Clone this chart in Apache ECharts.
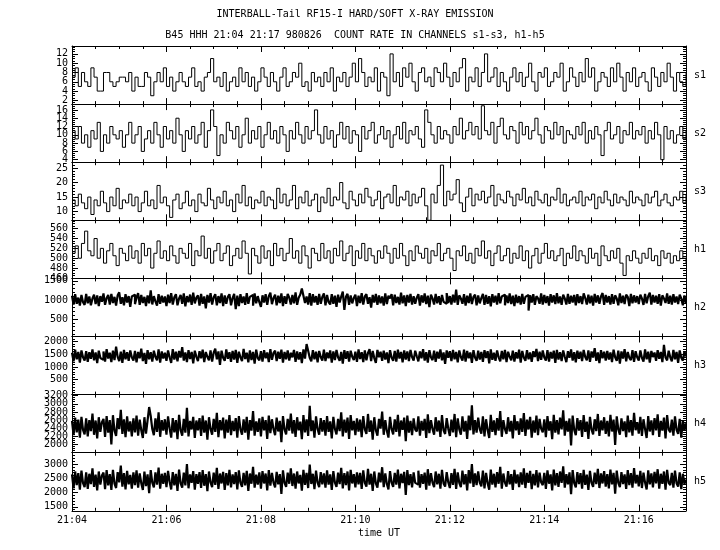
<!DOCTYPE html>
<html><head><meta charset="utf-8">
<script src="https://cdn.jsdelivr.net/npm/echarts@6/dist/echarts.min.js"></script>
<style>html,body{margin:0;padding:0;background:#fff}#c{width:720px;height:550px}</style>
</head><body><div id="c"></div>
<script>
// ---- DATA ----
const titleLine1 = 'INTERBALL-Tail RF15-I HARD/SOFT X-RAY EMISSION';
const titleLine2 = 'B45 HHH 21:04 21:17 980826  COUNT RATE IN CHANNELS s1-s3, h1-h5';
const xTickLabels = ['21:04','21:06','21:08','21:10','21:12','21:14','21:16'];
const channelNames = ['s1','s2','s3','h1','h2','h3','h4','h5'];
const sparseStep = 4; // seconds between samples, s1..h1
const denseStep = 2;  // seconds between samples, h2..h5

const s1Ticks = [2,4,6,8,10,12];
const s2Ticks = [4,6,8,10,12,14,16];
const s3Ticks = [10,15,20,25];
const h1Ticks = [460,480,500,520,540,560];
const h2Ticks = [500,1000,1500];
const h3Ticks = [500,1000,1500,2000];
const h4Ticks = [2000,2200,2400,2600,2800,3000,3200];
const h5Ticks = [1500,2000,2500,3000];

const s1 = [7,9,5,8,6,5,9,7,4,4,8,8,6,5,6,7,7,6,8,4,
7,5,5,8,7,3,6,8,6,9,5,7,4,6,8,6,5,7,9,5,
6,4,7,8,11,6,7,5,8,4,6,7,5,9,6,8,5,7,4,6,
9,7,5,8,6,4,7,9,5,6,8,7,10,5,6,4,8,6,7,5,
8,6,9,4,7,6,8,5,7,10,6,11,8,5,7,6,9,4,8,7,
3,12,6,8,5,9,7,10,6,4,8,9,6,7,5,9,8,6,10,7,
5,8,6,9,11,4,7,6,9,5,8,12,6,7,9,5,8,6,4,7,
9,6,8,5,7,10,6,4,8,7,9,5,6,8,7,10,4,6,9,7,
5,8,6,11,7,9,4,6,8,7,5,9,6,10,7,4,8,6,9,5,
7,8,6,4,9,7,5,8,6,10,7,4,8,6,5,8];

const s2 = [11,9,12,8,10,7,11,9,13,6,10,8,12,10,9,11,7,10,13,8,
10,12,6,9,11,8,13,10,7,12,9,11,8,14,10,6,11,9,12,8,
10,13,7,11,16,12,5,10,8,13,11,9,12,7,10,14,8,11,9,12,
7,10,13,9,11,8,12,10,6,11,9,13,10,8,12,9,11,16,10,8,
12,9,11,7,10,13,9,12,8,11,10,6,12,9,11,13,8,10,12,9,
11,7,10,12,9,13,8,11,10,12,9,7,16,13,10,8,12,9,11,10,
8,12,10,14,9,11,13,10,12,9,17,11,10,13,8,12,14,10,9,12,
11,8,13,10,12,9,11,14,10,8,12,11,9,13,10,12,8,11,10,9,
12,10,13,8,11,9,12,10,5,11,13,9,10,12,8,11,10,13,9,11,
10,12,8,11,9,13,10,4,12,9,11,8,10,12,9,11];

const s3 = [14,12,16,13,11,15,9,14,12,17,13,10,15,12,18,11,14,13,16,12,
15,10,13,17,12,14,11,19,13,15,12,8,14,16,11,13,17,12,14,10,
16,13,12,18,14,11,15,13,17,12,14,10,16,13,19,12,15,11,14,13,
17,12,15,14,11,18,13,16,12,14,19,11,15,13,17,12,14,16,10,15,
13,18,12,15,14,20,13,11,17,14,12,16,13,18,15,12,14,17,11,15,
16,13,19,12,15,14,17,12,16,13,15,18,12,7,16,13,19,26,12,17,
14,16,21,13,10,15,18,12,16,14,17,13,15,19,12,16,14,13,17,15,
12,16,14,18,13,15,12,17,14,13,16,12,15,14,18,13,16,12,14,15,
13,17,12,15,14,16,11,15,13,17,14,12,16,13,15,14,12,17,13,15,
14,12,16,13,15,17,12,14,16,13,12,15,14,17,13,16];

const h1 = [510,525,500,530,555,515,505,540,500,520,490,515,530,505,485,520,510,495,525,500,
515,490,530,505,520,480,510,535,500,515,495,525,505,490,520,510,500,530,485,515,
505,545,500,520,490,515,530,495,510,525,485,505,520,500,535,510,468,520,505,490,
525,500,515,485,530,505,520,495,510,540,500,515,490,525,505,480,520,510,495,530,
500,515,490,520,505,535,495,510,525,485,515,500,530,495,520,505,490,515,500,525,
510,490,520,500,530,505,485,515,495,525,510,500,520,490,515,505,530,495,510,520,
500,475,515,505,525,495,510,490,520,505,535,500,515,485,510,525,495,505,520,490,
510,500,525,495,515,480,505,520,490,510,530,500,515,495,505,520,485,510,500,525,
495,515,505,490,520,500,510,485,525,505,495,515,500,520,490,465,505,495,515,500,
490,510,500,520,495,505,485,515,500,510,490,505,495,515,500,490];

const h2 = [1110,880,1150,900,1060,850,1130,940,870,1160,910,1090,860,1040,1140,890,1120,840,1100,950,
1170,870,1050,1130,880,1160,920,1080,850,1120,1200,900,1070,860,1150,930,1100,820,1090,1140,
890,1060,1180,870,1130,920,1080,840,1120,910,1250,880,1100,960,850,1150,900,1110,930,1090,
840,1140,920,1180,880,1070,1150,860,1040,1130,900,1170,830,1100,940,1140,870,1190,910,1060,
1120,850,1160,900,1090,780,1130,930,1180,880,1070,1150,860,1100,920,1170,840,1120,900,1080,
1150,860,1050,1160,760,1110,840,1150,920,1090,870,1180,900,1080,1130,850,1170,910,1100,940,
820,1120,930,1150,870,1100,1190,890,1050,1140,860,1110,920,1170,840,1100,900,1160,1060,880,
1130,910,1200,870,1060,1140,1300,1110,920,1090,880,1180,850,1150,930,1100,870,1160,900,1080,
1170,860,1130,940,880,1150,900,1110,820,1140,930,1090,1220,740,1080,1160,870,1120,910,1050,
1140,840,1110,920,1180,880,1090,1150,900,1070,800,1130,930,1160,870,1120,910,1090,850,1170,
890,1110,1040,1150,860,1140,920,1080,880,1190,910,1120,840,1130,930,1160,880,1100,900,1060,
1150,850,1120,930,1170,890,1110,810,1140,1040,880,1160,910,1100,870,1130,950,900,1180,920,
1100,880,1140,930,1270,870,1120,1040,900,1150,850,1110,920,1170,890,1080,1140,860,1120,910,
1050,1160,870,1130,900,1100,830,1150,930,1110,880,1180,910,1090,1140,860,1120,920,1170,890,
1110,840,1140,920,1100,880,1160,900,1080,1130,720,1120,930,1150,870,1100,1040,900,1170,880,
1130,920,1100,850,1150,930,1120,890,1180,910,1090,870,1140,1040,880,1160,900,1110,930,1130,
860,1150,920,1100,890,1170,1050,880,1140,910,1110,850,1160,930,1120,900,1090,1180,870,1130,
930,1100,880,1150,900,1120,1040,860,1170,920,1110,890,1140,1080,840,1160,910,1120,930,1100,
890,1140,1040,870,1160,910,1100,1190,880,1130,930,1110,900,1150,850,1120,1040,920,1170,900,
1110,880,1150,930,1090,890,1140,1040,860,1120,920];

const h3 = [1560,1220,1680,1300,1590,1170,1650,1380,1250,1620,1200,1580,1320,1690,1260,1570,1150,1640,1350,1280,
1610,1210,1700,1330,1560,1190,1640,1270,1800,1400,1230,1600,1160,1670,1300,1580,1240,1650,1380,1250,
1630,1180,1590,1340,1720,1230,1550,1120,1660,1300,1580,1210,1640,1390,1260,1690,1170,1610,1330,1560,
1240,1650,1380,1160,1700,1290,1600,1220,1630,1370,1780,1250,1570,1190,1660,1310,1590,1140,1640,1400,
1230,1620,1340,1680,1190,1590,1400,1260,1650,1210,1560,1720,1300,1610,1080,1640,1360,1240,1690,1320,
1580,1200,1630,1290,1670,1160,1600,1380,1230,1710,1310,1560,1180,1650,1270,1590,1130,1680,1350,1260,
1620,1210,1660,1340,1570,1190,1700,1280,1550,1640,1230,1600,1320,1680,1170,1590,1300,1650,1250,1560,
1380,1670,1200,1610,1290,1580,1150,1690,1330,1900,1640,1360,1220,1660,1300,1600,1180,1630,1390,1250,
1680,1230,1570,1340,1650,1170,1610,1270,1670,1380,1240,1590,1130,1660,1320,1620,1210,1640,1400,1270,
1600,1200,1690,1310,1580,1190,1650,1260,1550,1700,1230,1630,1350,1160,1670,1380,1600,1240,1640,1290,
1570,1150,1660,1370,1240,1630,1210,1680,1330,1590,1180,1650,1290,1610,1230,1670,1390,1250,1640,1420,
1220,1610,1340,1700,1250,1580,1170,1660,1380,1270,1640,1200,1600,1330,1690,1260,1570,1120,1650,1360,
1620,1230,1670,1300,1590,1180,1650,1390,1250,1680,1210,1630,1340,1570,1160,1660,1370,1240,1640,1290,
1590,1200,1660,1350,1620,1140,1690,1280,1560,1240,1650,1380,1220,1630,1300,1670,1190,1600,1400,1260,
1640,1210,1580,1330,1680,1170,1630,1370,1240,1660,1300,1570,1200,1620,1390,1710,1230,1600,1280,1650,
1370,1250,1660,1210,1590,1330,1640,1160,1670,1290,1580,1230,1650,1400,1190,1620,1360,1690,1250,1580,
1180,1640,1320,1600,1230,1670,1390,1260,1650,1200,1610,1370,1740,1240,1570,1150,1660,1340,1600,1250,
1630,1290,1570,1190,1680,1380,1240,1640,1130,1610,1330,1700,1220,1590,1360,1270,1660,1200,1620,1380,
1250,1650,1360,1210,1690,1300,1600,1170,1630,1390,1570,1240,1660,1320,1590,1190,1870,1370,1260,1640,
1380,1220,1670,1300,1590,1160,1650,1360,1250,1620,1410];

const h4 = [2580,2230,2660,2300,2610,2170,2680,2360,2250,2640,2200,2600,2330,2760,2240,2590,2150,2670,2310,2550,
2630,2190,2700,2290,2600,2000,2720,2340,2210,2650,2380,2850,2260,2620,2180,2690,2320,2570,2200,2640,
2300,2710,2220,2610,2350,2160,2670,2270,2590,2920,2700,2380,2230,2640,2310,2790,2190,2600,2340,2620,
2240,2690,2400,2170,2650,2300,2600,2130,2730,2350,2220,2630,2290,2900,2200,2580,2370,2680,2160,2590,
2350,2650,2210,2710,2290,2590,2120,2670,2380,2240,2630,2310,2780,2180,2600,2350,2660,2150,2610,2290,
2720,2230,2580,2330,2650,2170,2700,2370,2240,2620,2290,2680,2120,2600,2340,2820,2220,2570,2310,2640,
2200,2680,2350,2600,2140,2710,2280,2620,2380,2230,2660,2320,2580,2060,2700,2370,2250,2630,2340,2760,
2270,2600,2190,2670,2350,2560,2130,2720,2300,2620,2210,2950,2330,2590,2170,2690,2380,2240,2650,2320,
2600,2220,2700,2310,2570,2150,2680,2380,2250,2630,2330,2790,2200,2610,2290,2660,2140,2720,2350,2580,
2230,2640,2320,2610,2180,2700,2370,2260,2750,2310,2590,2120,2670,2350,2220,2630,2390,2810,2240,2600,
2330,2170,2680,2380,2250,2620,2310,2730,2200,2590,2360,2660,2080,2710,2290,2580,2230,2640,2370,2320,
2690,2220,2580,2340,2630,2160,2740,2280,2600,2380,2240,2670,2320,2590,2190,2720,2350,2260,2650,2390,
2210,2610,2300,2750,2180,2640,2370,2240,2690,2320,2580,2140,2710,2350,2960,2250,2600,2290,2660,2380,
2270,2690,2200,2620,2360,2160,2730,2310,2590,2230,2650,2340,2820,2190,2600,2380,2260,2670,2320,2580,
2150,2720,2350,2570,2240,2640,2310,2770,2210,2610,2370,2680,2170,2590,2290,2710,2230,2630,2390,2300,
2620,2180,2700,2340,2570,2130,2730,2290,2600,2250,2660,2370,2840,2220,2580,2320,2640,1980,2710,2360,
2230,2650,2340,2600,2190,2720,2310,2560,2140,2680,2370,2250,2620,2330,2750,2210,2590,2350,2670,2260,
2580,2200,2730,2320,2610,1990,2690,2370,2240,2640,2330,2570,2180,2710,2300,2600,2220,2780,2350,2550,
2270,2680,2210,2620,2380,2160,2700,2320,2590,2230,2650,2350,2740,2190,2580,2340,2660,2150,2720,2370,
2300,2610,2220,2690,2360,2260,2630,2170,2590,2340,2520];

const h5 = [2640,2150,2740,2260,2680,2100,2770,2330,2190,2710,2130,2660,2300,2850,2200,2630,2080,2740,2280,2600,
2700,2120,2790,2250,2650,2090,2800,2310,2160,2720,2360,2950,2210,2680,2110,2760,2290,2620,2140,2710,
2260,2780,2170,2670,2330,2090,2740,2230,2640,1980,2790,2350,2180,2710,2280,2880,2140,2660,2310,2690,
2190,2760,2380,2110,2720,2250,2660,2060,2810,2320,2170,2700,2250,3000,2150,2640,2340,2750,2100,2650,
2310,2720,2160,2790,2240,2650,2050,2740,2360,2190,2700,2270,2870,2130,2670,2320,2730,2090,2680,2250,
2800,2180,2640,2300,2720,2110,2780,2340,2200,2690,2250,2760,2060,2670,2310,2900,2170,2630,2280,2710,
2140,2750,2320,2670,2080,2790,2240,2690,2350,2180,2730,2290,2650,1950,2780,2340,2200,2700,2310,2850,
2230,2670,2140,2740,2320,2620,2070,2800,2270,2690,2160,2980,2300,2660,2120,2770,2350,2190,2720,2290,
2670,2170,2780,2280,2640,2090,2750,2350,2200,2700,2300,2870,2150,2680,2260,2740,2080,2800,2320,2650,
2180,2710,2290,2690,2130,2780,2340,2210,2830,2280,2660,2060,2740,2320,2170,2700,2360,2890,2190,2670,
2300,2110,2750,2350,2200,2690,2280,2810,2150,2660,2330,2730,1920,2790,2260,2650,2180,2710,2340,2280,
2770,2170,2650,2310,2700,2100,2820,2240,2680,2350,2190,2740,2290,2660,2140,2800,2320,2210,2720,2360,
2160,2680,2270,2830,2130,2710,2340,2190,2770,2290,2650,2080,2790,2320,3000,2200,2670,2260,2740,2350,
2220,2770,2150,2690,2330,2100,2810,2280,2660,2180,2720,2310,2900,2140,2670,2350,2210,2750,2290,2650,
2090,2800,2320,2640,2190,2710,2280,2850,2160,2690,2340,2760,2120,2660,2250,2790,2180,2700,2360,2260,
2690,2130,2780,2310,2640,2080,2810,2250,2680,2200,2740,2340,2920,2170,2650,2290,2710,1940,2790,2330,
2180,2720,2300,2680,2140,2800,2270,2630,2090,2760,2340,2200,2700,2300,2830,2160,2670,2320,2750,2210,
2650,2150,2810,2290,2690,1960,2770,2340,2190,2720,2300,2640,2130,2790,2260,2680,2170,2860,2320,2620,
2220,2760,2160,2700,2350,2110,2780,2290,2670,2180,2730,2320,2820,2140,2660,2310,2740,2100,2800,2340,
2260,2690,2170,2770,2330,2210,2710,2120,2660,2310,2450];

// ---- LAYOUT / STYLE ----
const GRID_TOP = 46, GRID_H = 58.1, LEFT = 72, RIGHT = 34;
const T_MAX = 780;
const FONT = 'DejaVu Sans Mono';
const FS = 10;
const BLACK = '#000';

const panels = [
  {data:s1, dt:sparseStep, min:1.2, max:13.7, ticks:s1Ticks, minor:0.5, lw:1},
  {data:s2, dt:sparseStep, min:3.4, max:17.4, ticks:s2Ticks, minor:0.5, lw:1},
  {data:s3, dt:sparseStep, min:7, max:27, ticks:s3Ticks, minor:1, lw:1},
  {data:h1, dt:sparseStep, min:459, max:577, ticks:h1Ticks, minor:5, lw:1},
  {data:h2, dt:denseStep, min:40, max:1565, ticks:h2Ticks, minor:100, lw:2.2},
  {data:h3, dt:denseStep, min:-90, max:2200, ticks:h3Ticks, minor:100, lw:2.2},
  {data:h4, dt:denseStep, min:1800, max:3225, ticks:h4Ticks, minor:50, lw:2.2},
  {data:h5, dt:denseStep, min:1360, max:3400, ticks:h5Ticks, minor:100, lw:2.2}
];

function minorValues(min, max, step) {
  const out = [];
  for (let v = Math.ceil(min / step) * step; v <= max + 1e-9; v += step) out.push(Math.round(v * 1000) / 1000);
  return out;
}

const grids = [], xAxes = [], yAxes = [], series = [];
const lineStyle = {color: BLACK, width: 1};
const Y_PER_PANEL = 5;

panels.forEach((p, i) => {
  grids.push({left: LEFT, right: RIGHT, top: GRID_TOP + i * GRID_H, height: GRID_H,
    containLabel: false, outerBoundsMode: 'none', show: false});
  const isBottom = i === panels.length - 1;
  const xBase = {type: 'value', gridIndex: i, min: 0, max: T_MAX, splitLine: {show: false}};
  xAxes.push(Object.assign({}, xBase, {
    position: 'bottom', interval: 120,
    axisLine: {show: true, onZero: false, lineStyle},
    axisTick: {show: true, inside: true, length: 6, lineStyle},
    axisLabel: {show: isBottom, color: BLACK, fontFamily: FONT, fontSize: FS, margin: 5, hideOverlap: false,
      formatter: v => (v % 120 === 0 && xTickLabels[v / 120]) ? xTickLabels[v / 120] : ''},
    name: isBottom ? 'time UT' : '', nameLocation: 'middle', nameGap: 18,
    nameTextStyle: {color: BLACK, fontFamily: FONT, fontSize: FS}
  }));
  xAxes.push(Object.assign({}, xBase, {
    position: 'bottom', interval: 30,
    axisLine: {show: false, onZero: false},
    axisTick: {show: true, inside: true, length: 3, lineStyle},
    axisLabel: {show: false}
  }));
  xAxes.push(Object.assign({}, xBase, {
    position: 'top', interval: 120,
    axisLine: {show: true, onZero: false, lineStyle},
    axisTick: {show: true, inside: true, length: 6, lineStyle},
    axisLabel: {show: false}
  }));
  xAxes.push(Object.assign({}, xBase, {
    position: 'top', interval: 30,
    axisLine: {show: false, onZero: false},
    axisTick: {show: true, inside: true, length: 3, lineStyle},
    axisLabel: {show: false}
  }));

  const mv = minorValues(p.min, p.max, p.minor);
  const evenTicks = p.ticks.filter((_, k) => k % 2 === 0);
  const oddTicks = p.ticks.filter((_, k) => k % 2 === 1);
  const yBase = {type: 'value', gridIndex: i, min: p.min, max: p.max, splitLine: {show: false}};
  const labelStyle = {show: true, color: BLACK, fontFamily: FONT, fontSize: FS, margin: 4,
    hideOverlap: false, showMinLabel: true, showMaxLabel: true, formatter: v => String(v)};
  yAxes.push(Object.assign({}, yBase, {
    position: 'left',
    axisLine: {show: true, onZero: false, lineStyle},
    axisTick: {show: true, inside: true, length: 6, customValues: evenTicks, lineStyle},
    axisLabel: Object.assign({}, labelStyle, {customValues: evenTicks})
  }));
  yAxes.push(Object.assign({}, yBase, {
    position: 'left',
    axisLine: {show: false, onZero: false},
    axisTick: {show: true, inside: true, length: 6, customValues: oddTicks.length ? oddTicks : evenTicks, lineStyle},
    axisLabel: Object.assign({}, labelStyle, {show: oddTicks.length > 0, customValues: oddTicks.length ? oddTicks : evenTicks})
  }));
  yAxes.push(Object.assign({}, yBase, {
    position: 'left',
    axisLine: {show: false, onZero: false},
    axisTick: {show: true, inside: true, length: 3, customValues: mv, lineStyle},
    axisLabel: {show: false}
  }));
  yAxes.push(Object.assign({}, yBase, {
    position: 'right',
    axisLine: {show: true, onZero: false, lineStyle},
    axisTick: {show: true, inside: true, length: 6, customValues: p.ticks, lineStyle},
    axisLabel: {show: false, customValues: p.ticks},
    name: channelNames[i], nameLocation: 'middle', nameRotate: 0, nameGap: 8,
    nameTextStyle: {color: BLACK, fontFamily: FONT, fontSize: FS, align: 'left'}
  }));
  yAxes.push(Object.assign({}, yBase, {
    position: 'right',
    axisLine: {show: false, onZero: false},
    axisTick: {show: true, inside: true, length: 3, customValues: mv, lineStyle},
    axisLabel: {show: false}
  }));

  series.push({
    type: 'line', xAxisIndex: i * 4, yAxisIndex: i * Y_PER_PANEL, step: 'end',
    showSymbol: false, symbol: 'none', silent: true, animation: false, sampling: null,
    lineStyle: {color: BLACK, width: p.lw},
    data: p.data.map((v, k) => [k * p.dt, v])
  });
});

const chart = echarts.init(document.getElementById('c'), null, {renderer: 'canvas'});
chart.setOption({
  backgroundColor: '#fff',
  animation: false,
  grid: grids, xAxis: xAxes, yAxis: yAxes, series,
  graphic: [
    {type: 'text', x: 355, y: 14, style: {text: titleLine1, fill: BLACK, font: '10px "DejaVu Sans Mono"', textAlign: 'center', textVerticalAlign: 'middle'}},
    {type: 'text', x: 355, y: 35, style: {text: titleLine2, fill: BLACK, font: '10px "DejaVu Sans Mono"', textAlign: 'center', textVerticalAlign: 'middle'}}
  ]
});
</script>
</body></html>
